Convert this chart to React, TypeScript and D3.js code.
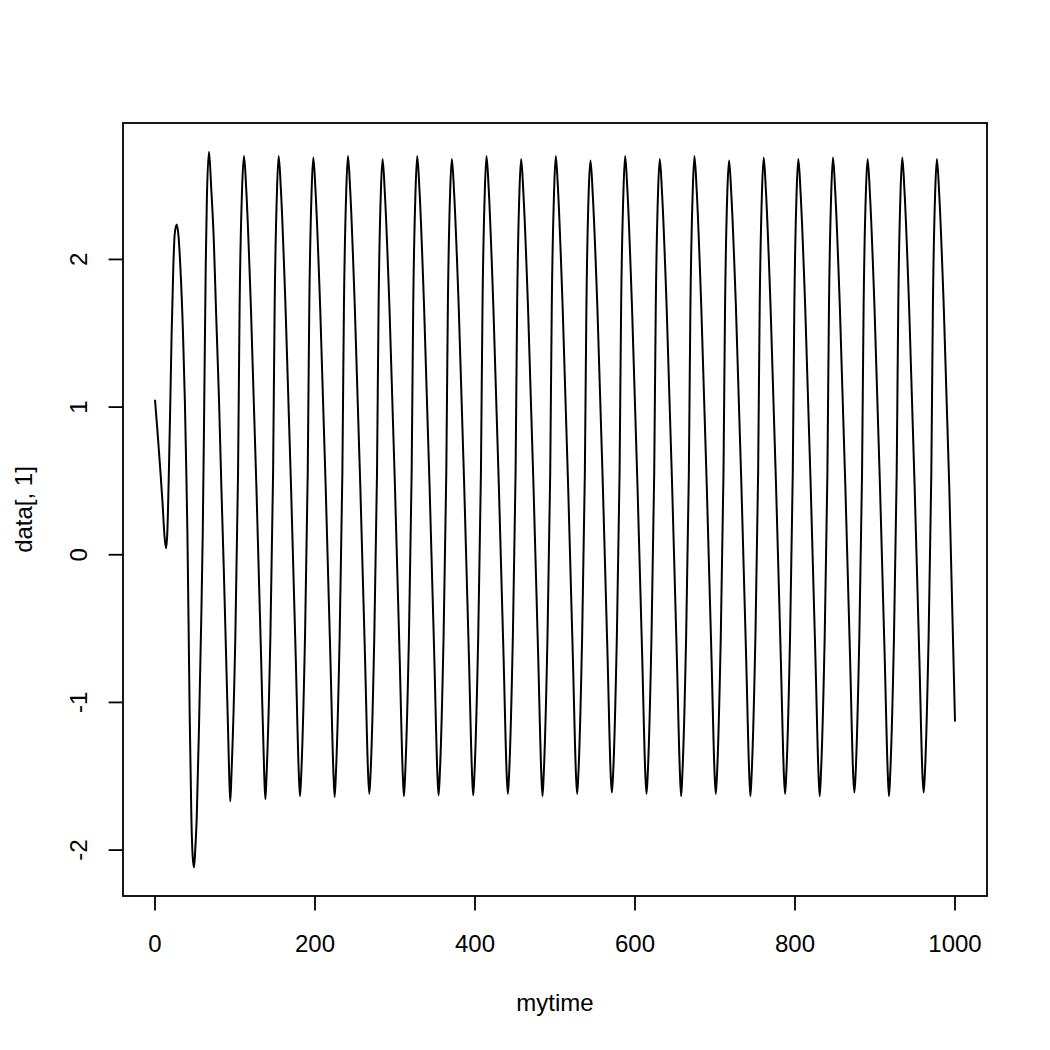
import React from "react";
import * as d3 from "d3";

// time values
const mytime: number[] = [
  0, 3.3, 6.3, 9.2, 12, 13.8, 15.4, 17.5, 19.2, 20.8, 22.9, 24.6,
  27.1, 29.5, 31.7, 35, 37.3, 39, 40.5, 41.9, 43.4, 45.5, 47.2, 48.8,
  50.3, 52.1, 55.2, 57.8, 59.7, 61.6, 63.4, 64.8,
  67.5, 70.3, 73.5, 76.3, 80, 83, 86, 89, 91.2, 92.8, 94.1, 95.5, 99.8, 103.8, 105.8, 108.8,
  111.3, 114.1, 119.9, 126.8, 132.7, 136.6, 138.0, 139.4, 143.6, 147.6, 149.6, 152.5,
  154.6, 157.4, 163.2, 170.1, 176.0, 179.9, 181.3, 182.7, 186.9, 190.9, 192.9, 195.8,
  197.9, 200.7, 206.5, 213.4, 219.3, 223.2, 224.6, 226.0, 230.2, 234.2, 236.2, 239.1,
  241.2, 244.0, 249.8, 256.7, 262.6, 266.5, 267.9, 269.3, 273.5, 277.5, 279.5, 282.4,
  284.5, 287.3, 293.1, 300.0, 305.9, 309.8, 311.2, 312.6, 316.8, 320.8, 322.8, 325.7,
  327.8, 330.6, 336.4, 343.3, 349.2, 353.1, 354.5, 355.9, 360.1, 364.1, 366.1, 369.0,
  371.1, 373.9, 379.7, 386.6, 392.5, 396.4, 397.8, 399.2, 403.4, 407.4, 409.4, 412.3,
  414.4, 417.2, 423.0, 429.9, 435.8, 439.7, 441.1, 442.5, 446.7, 450.7, 452.7, 455.6,
  457.7, 460.5, 466.3, 473.2, 479.1, 483.0, 484.4, 485.8, 490.0, 494.0, 496.0, 498.9,
  501.0, 503.8, 509.6, 516.5, 522.4, 526.3, 527.7, 529.1, 533.3, 537.3, 539.3, 542.2,
  544.4, 547.2, 553.0, 559.9, 565.8, 569.7, 571.1, 572.5, 576.7, 580.7, 582.7, 585.6,
  587.7, 590.5, 596.3, 603.2, 609.1, 613.0, 614.4, 615.8, 620.0, 624.0, 626.0, 628.9,
  631.0, 633.8, 639.6, 646.5, 652.4, 656.3, 657.7, 659.1, 663.3, 667.3, 669.3, 672.2,
  674.3, 677.1, 682.9, 689.8, 695.7, 699.6, 701.0, 702.4, 706.6, 710.6, 712.6, 715.5,
  717.6, 720.4, 726.2, 733.1, 739.0, 742.9, 744.3, 745.7, 749.9, 753.9, 755.9, 758.8,
  760.9, 763.7, 769.5, 776.4, 782.3, 786.2, 787.6, 789.0, 793.2, 797.2, 799.2, 802.1,
  804.2, 807.0, 812.8, 819.7, 825.6, 829.5, 830.9, 832.3, 836.5, 840.5, 842.5, 845.4,
  847.5, 850.3, 856.1, 863.0, 868.9, 872.8, 874.2, 875.6, 879.8, 883.8, 885.8, 888.7,
  890.8, 893.6, 899.4, 906.3, 912.2, 916.1, 917.5, 918.9, 923.1, 927.1, 929.1, 932.0,
  934.1, 936.9, 942.7, 949.6, 955.5, 959.4, 960.8, 962.2, 966.4, 970.4, 972.4, 975.3,
  977.4, 980.2, 986.0, 992.9, 1000,
];

// data[, 1] values
const data1: number[] = [
  1.05, 0.82, 0.6, 0.37, 0.12, 0.045, 0.15, 0.6, 1.05, 1.5, 1.95, 2.17,
  2.236, 2.15, 1.95, 1.5, 1.05, 0.6, 0.15, -0.44, -1.1, -1.79, -2.05, -2.117,
  -2.0, -1.79, -1.115, -0.44, 0.15, 1.05, 1.95, 2.4,
  2.73, 2.48, 2.13, 1.65, 1.05, 0.45, -0.1, -0.71, -1.16, -1.5, -1.67, -1.5, -0.71, 0.55, 1.7, 2.47,
  2.70, 2.47, 1.67, 0.45, -0.71, -1.50, -1.655, -1.50, -0.71, 0.55, 1.70, 2.47,
  2.70, 2.47, 1.67, 0.45, -0.71, -1.50, -1.635, -1.50, -0.71, 0.55, 1.70, 2.47,
  2.69, 2.46, 1.67, 0.45, -0.71, -1.50, -1.64, -1.50, -0.71, 0.55, 1.70, 2.47,
  2.70, 2.47, 1.67, 0.45, -0.71, -1.50, -1.62, -1.50, -0.71, 0.55, 1.70, 2.47,
  2.68, 2.45, 1.67, 0.45, -0.71, -1.50, -1.635, -1.50, -0.71, 0.55, 1.70, 2.47,
  2.70, 2.47, 1.67, 0.45, -0.71, -1.50, -1.63, -1.50, -0.71, 0.55, 1.70, 2.47,
  2.68, 2.45, 1.67, 0.45, -0.71, -1.50, -1.63, -1.50, -0.71, 0.55, 1.70, 2.47,
  2.70, 2.47, 1.67, 0.45, -0.71, -1.50, -1.62, -1.50, -0.71, 0.55, 1.70, 2.47,
  2.68, 2.45, 1.67, 0.45, -0.71, -1.50, -1.635, -1.50, -0.71, 0.55, 1.70, 2.47,
  2.70, 2.47, 1.67, 0.45, -0.71, -1.50, -1.62, -1.50, -0.71, 0.55, 1.70, 2.47,
  2.67, 2.44, 1.67, 0.45, -0.71, -1.50, -1.61, -1.50, -0.71, 0.55, 1.70, 2.47,
  2.70, 2.47, 1.67, 0.45, -0.71, -1.50, -1.62, -1.50, -0.71, 0.55, 1.70, 2.47,
  2.68, 2.45, 1.67, 0.45, -0.71, -1.50, -1.635, -1.50, -0.71, 0.55, 1.70, 2.47,
  2.70, 2.47, 1.67, 0.45, -0.71, -1.50, -1.62, -1.50, -0.71, 0.55, 1.70, 2.47,
  2.67, 2.44, 1.67, 0.45, -0.71, -1.50, -1.635, -1.50, -0.71, 0.55, 1.70, 2.47,
  2.69, 2.46, 1.67, 0.45, -0.71, -1.50, -1.62, -1.50, -0.71, 0.55, 1.70, 2.47,
  2.68, 2.45, 1.67, 0.45, -0.71, -1.50, -1.635, -1.50, -0.71, 0.55, 1.70, 2.47,
  2.69, 2.46, 1.67, 0.45, -0.71, -1.50, -1.61, -1.50, -0.71, 0.55, 1.70, 2.47,
  2.68, 2.45, 1.67, 0.45, -0.71, -1.50, -1.635, -1.50, -0.71, 0.55, 1.70, 2.47,
  2.69, 2.46, 1.67, 0.45, -0.71, -1.50, -1.61, -1.50, -0.71, 0.55, 1.70, 2.47,
  2.68, 2.45, 1.67, 0.45, -1.13,
];

const xTicks: number[] = [0, 200, 400, 600, 800, 1000];
const yTicks: number[] = [-2, -1, 0, 1, 2];
const xLabel = "mytime";
const yLabel = "data[, 1]";

const W = 1050;
const H = 1050;
const box = { left: 123, right: 987, top: 123, bottom: 896 };
const FONT = "'Liberation Sans', Arial, Helvetica, sans-serif";
const FS = 24;

function ext4(v: number[]): [number, number] {
  const [lo, hi] = d3.extent(v) as [number, number];
  const d = (hi - lo) * 0.04;
  return [lo - d, hi + d];
}

export default function App() {
  const n = Math.min(mytime.length, data1.length);
  const pts: [number, number][] = [];
  for (let i = 0; i < n; i++) pts.push([mytime[i], data1[i]]);

  const x = d3.scaleLinear().domain(ext4(mytime)).range([box.left, box.right]);
  const y = d3.scaleLinear().domain(ext4(data1)).range([box.bottom, box.top]);

  const line = d3
    .line<[number, number]>()
    .x((d) => x(d[0]))
    .y((d) => y(d[1]))
    .curve(d3.curveMonotoneX);

  const tickLen = 14.4;
  const yMid = (box.top + box.bottom) / 2;
  return (
    <svg
      width={W}
      height={H}
      style={{ position: "absolute", left: 0, top: 0, background: "#fff" }}
      fontFamily={FONT}
    >
      <rect x={0} y={0} width={W} height={H} fill="#fff" />
      <path d={line(pts) || ""} fill="none" stroke="#000" strokeWidth={2} strokeLinejoin="round" />
      <rect
        x={box.left}
        y={box.top}
        width={box.right - box.left}
        height={box.bottom - box.top}
        fill="none"
        stroke="#000"
        strokeWidth={1.8}
      />
      {/* x axis */}
      {xTicks.map((t) => (
        <g key={"x" + t}>
          <line x1={x(t)} x2={x(t)} y1={box.bottom} y2={box.bottom + tickLen} stroke="#000" strokeWidth={1.8} />
          <text x={x(t)} y={952} fontSize={FS} textAnchor="middle" fill="#000">
            {t}
          </text>
        </g>
      ))}
      {/* y axis */}
      {yTicks.map((t) => (
        <g key={"y" + t}>
          <line x1={box.left - tickLen} x2={box.left} y1={y(t)} y2={y(t)} stroke="#000" strokeWidth={1.8} />
          <text
            x={87.5}
            y={y(t)}
            fontSize={FS}
            textAnchor="middle"
            fill="#000"
            transform={`rotate(-90, 87.5, ${y(t)})`}
          >
            {t}
          </text>
        </g>
      ))}
      <text x={(box.left + box.right) / 2} y={1011} fontSize={FS} textAnchor="middle" fill="#000">
        {xLabel}
      </text>
      <text
        x={31.5}
        y={yMid}
        fontSize={FS}
        textAnchor="middle"
        fill="#000"
        transform={`rotate(-90, 31.5, ${yMid})`}
      >
        {yLabel}
      </text>
    </svg>
  );
}
